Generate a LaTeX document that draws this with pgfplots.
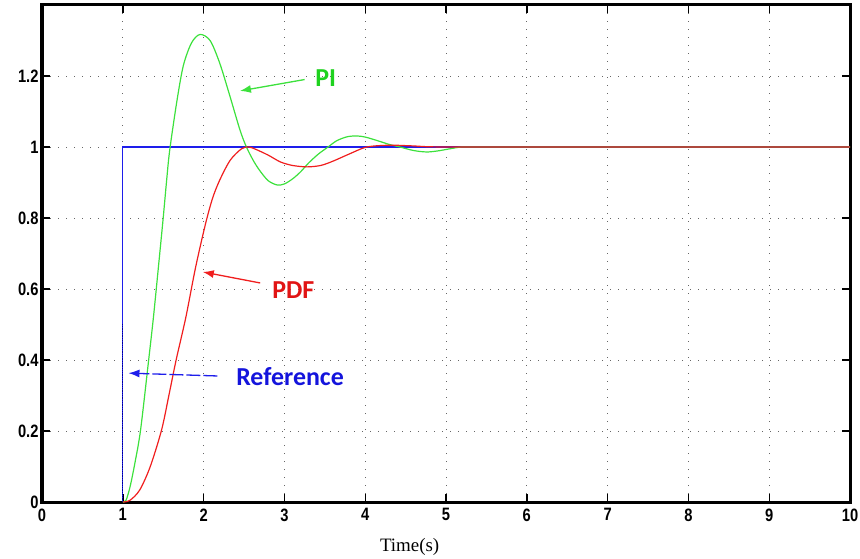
\documentclass[border=0pt]{standalone}
\usepackage{pgfplots}
\pgfplotsset{compat=1.18}
\usetikzlibrary{arrows.meta}
\usepackage{fontspec}
\setmainfont{Liberation Sans}
\newfontfamily\tickfont[FakeStretch=0.82]{Liberation Sans Bold}
\newfontfamily\seriffont{Liberation Serif}
\newfontfamily\annofont{Carlito}
\definecolor{pigreen}{RGB}{60,225,60}
\definecolor{pitext}{RGB}{30,210,30}
\definecolor{pdfred}{RGB}{240,30,30}
\definecolor{pdftext}{RGB}{225,20,20}
\definecolor{refblue}{RGB}{30,30,235}
\definecolor{reftext}{RGB}{20,20,220}
\begin{document}
\begin{tikzpicture}
\begin{axis}[
  scale only axis, width=808bp, height=497bp,
  xmin=0, xmax=10, ymin=0, ymax=1.4,
  xtick={0,1,2,3,4,5,6,7,8,9,10},
  ytick={0,0.2,0.4,0.6,0.8,1,1.2},
  yticklabels={0,0.2,0.4,0.6,0.8,1,1.2},
  tick align=inside, major tick length=8bp,
  tick style={black, line width=1.4bp},
  ticklabel style={font=\tickfont\fontsize{18}{18}\selectfont},
  xticklabel style={yshift=-3bp},
  /pgf/number format/assume math mode=true,
  grid=major,
  grid style={black!60, line width=0.9bp, dash pattern=on 1bp off 7bp},
  axis line style={black, line width=3bp},
  xlabel={\seriffont Time(s)},
  xlabel style={font=\fontsize{19}{19}\selectfont, at={(axis description cs:0.455,0)}, anchor=center, yshift=-45bp},
  clip=false,
]
\addplot[refblue, line width=1.1bp] coordinates {(1,0) (1,1) (10,1)};
\addplot[blue!60!black, line width=1.3bp, densely dotted] coordinates {(1,0) (1,0.5)};
\addplot[pigreen, line width=1.2bp, smooth, tension=0.5] coordinates {
(1,0) (1.04,0.005) (1.09,0.043) (1.15,0.11) (1.22,0.203) (1.32,0.40) (1.38,0.522) (1.44,0.66) (1.50,0.80) (1.54,0.90) (1.58,0.99) (1.67,1.13) (1.75,1.23) (1.85,1.293) (1.955,1.317) (2.08,1.30) (2.20,1.236) (2.33,1.14) (2.45,1.048) (2.53,1.0) (2.62,0.96) (2.70,0.932) (2.80,0.905) (2.91,0.893) (3.0,0.896) (3.1,0.91) (3.2,0.93) (3.3,0.955) (3.42,0.98) (3.54,1.0) (3.65,1.018) (3.78,1.029) (3.90,1.031) (4.0,1.028) (4.15,1.018) (4.3,1.007) (4.43,1.0) (4.6,0.99) (4.76,0.986) (4.9,0.989) (5.05,0.995) (5.2,1.0) (5.5,1.0) (7,1.0) (10,1.0)};
\addplot[pdfred, line width=1.2bp, smooth, tension=0.5] coordinates {
(1,0) (1.09,0.005) (1.21,0.034) (1.34,0.10) (1.48,0.203) (1.57,0.30) (1.66,0.40) (1.78,0.52) (1.90,0.66) (2.02,0.78) (2.11,0.855) (2.20,0.907) (2.33,0.963) (2.47,0.995) (2.56,1.0) (2.65,0.993) (2.8,0.977) (2.95,0.958) (3.1,0.948) (3.28,0.944) (3.45,0.948) (3.6,0.96) (3.8,0.98) (4.02,1.0) (4.3,1.005) (4.6,1.003) (5,1.0) (7,1.0) (10,1.0)};
\node[font=\annofont\bfseries\fontsize{26}{26}\selectfont, text=pitext] at (axis cs:3.51,1.194) {PI};
\draw[-{Latex[length=11bp,width=8bp]}, pigreen, line width=1.3bp] (axis cs:3.25,1.19) -- (axis cs:2.45,1.158);
\node[font=\annofont\bfseries\fontsize{26}{26}\selectfont, text=pdftext] at (axis cs:3.11,0.597) {PDF};
\draw[-{Latex[length=11bp,width=8bp]}, pdfred, line width=1.3bp] (axis cs:2.70,0.617) -- (axis cs:1.99,0.648);
\node[font=\annofont\bfseries\fontsize{26}{26}\selectfont, text=reftext] at (axis cs:3.07,0.352) {Reference};
\draw[-{Latex[length=11bp,width=8bp]}, refblue, line width=1.3bp, dash pattern=on 14bp off 3bp] (axis cs:2.17,0.355) -- (axis cs:1.07,0.363);
\end{axis}
\pgfresetboundingbox
\path[use as bounding box] (-42bp,-57bp) rectangle (818bp,502bp);
\end{tikzpicture}
\end{document}
